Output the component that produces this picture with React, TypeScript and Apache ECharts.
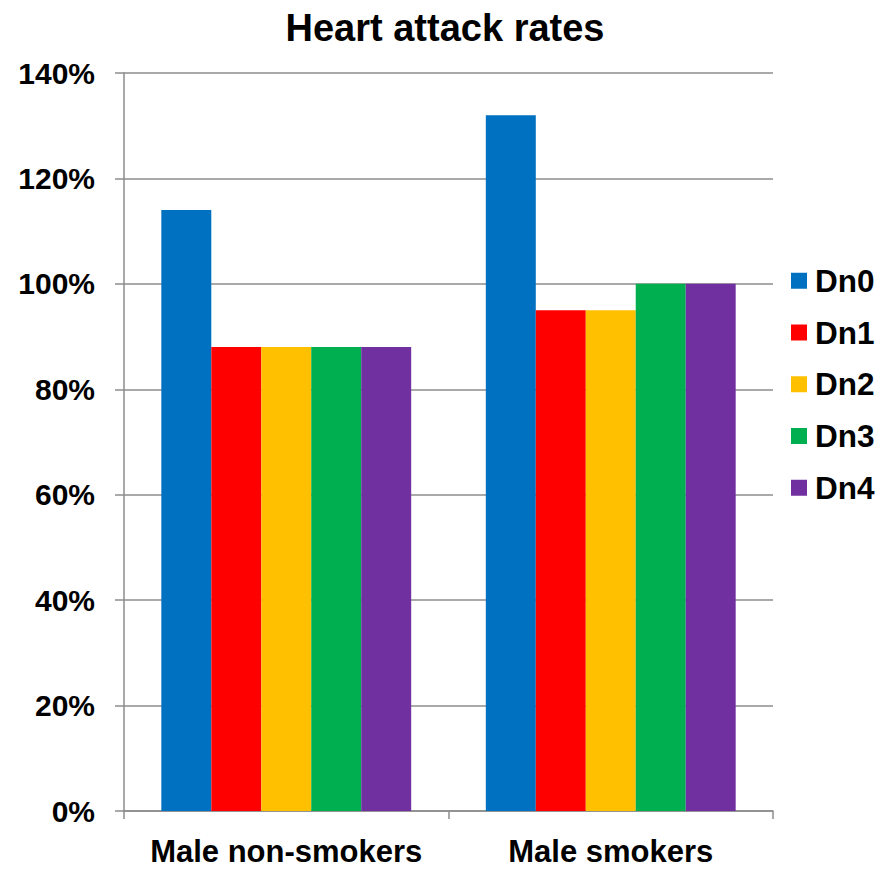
import React, { useEffect, useRef } from "react";
import * as echarts from "echarts";

const categories = ["Male non-smokers", "Male smokers"];
const seriesNames = ["Dn0", "Dn1", "Dn2", "Dn3", "Dn4"];
const dn0 = [114, 132];
const dn1 = [88, 95];
const dn2 = [88, 95];
const dn3 = [88, 100];
const dn4 = [88, 100];
const seriesValues = [dn0, dn1, dn2, dn3, dn4];
const colors = ["#0070C0", "#FF0000", "#FFC000", "#00B050", "#7030A0"];
const yMin = 0;
const yMax = 140;
const yInterval = 20;

const FONT = "'Liberation Sans', Arial, sans-serif";

export default function App() {
  const ref = useRef<HTMLDivElement>(null);
  useEffect(() => {
    if (!ref.current) return;
    const chart = echarts.init(ref.current, null, { renderer: "svg" });
    chart.setOption({
      animation: false,
      backgroundColor: "#ffffff",
      title: {
        text: "Heart attack rates",
        left: 440,
        textAlign: "center",
        top: 4,
        textStyle: { fontFamily: FONT, fontSize: 38, fontWeight: "bold", color: "#000" },
      },
      legend: {
        orient: "vertical",
        left: 786,
        top: 259.75,
        itemWidth: 16,
        itemHeight: 16,
        itemGap: 19.75,
        icon: "rect",
        data: seriesNames,
        textStyle: {
          fontFamily: FONT,
          fontSize: 31.5,
          fontWeight: "bold",
          color: "#000",
          lineHeight: 31.5,
          padding: [0, 0, 0, 3],
        },
      },
      grid: { left: 124, right: 103, top: 73, bottom: 59, containLabel: false },
      xAxis: {
        type: "category",
        data: categories,
        axisLine: { lineStyle: { color: "#8c8c8c", width: 1.5 } },
        axisTick: { show: true, length: 8, lineStyle: { color: "#8c8c8c", width: 1.5 } },
        axisLabel: {
          interval: 0,
          fontFamily: FONT,
          fontSize: 31,
          fontWeight: "bold",
          color: "#000",
          lineHeight: 24,
          margin: 28,
        },
      },
      yAxis: {
        type: "value",
        min: yMin,
        max: yMax,
        interval: yInterval,
        axisLine: { show: true, lineStyle: { color: "#8c8c8c", width: 1.5 } },
        axisTick: { show: true, length: 9, lineStyle: { color: "#8c8c8c", width: 1.5 } },
        splitLine: { show: true, lineStyle: { color: "#8c8c8c", width: 1.5 } },
        axisLabel: {
          fontFamily: FONT,
          fontSize: 30,
          fontWeight: "bold",
          color: "#000",
          margin: 29,
          formatter: "{value}%",
        },
      },
      series: seriesNames.map((name, i) => ({
        name,
        type: "bar",
        data: seriesValues[i],
        barGap: "0%",
        barCategoryGap: "23%",
        itemStyle: { color: colors[i] },
      })),
    });
    return () => chart.dispose();
  }, []);
  return (
    <div
      ref={ref}
      style={{ position: "fixed", left: 0, top: 0, width: 876, height: 870 }}
    />
  );
}
